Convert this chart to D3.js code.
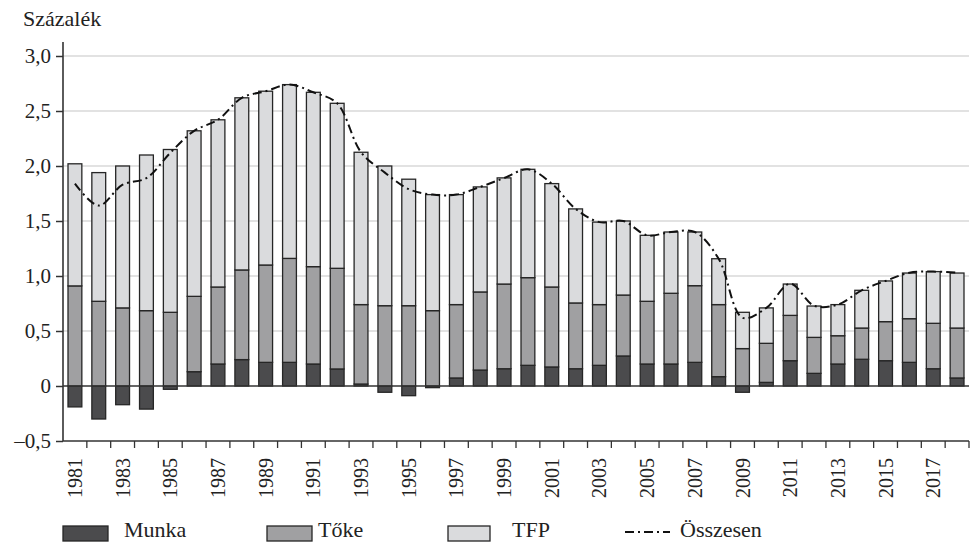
<!DOCTYPE html>
<html>
<head>
<meta charset="utf-8">
<script src="https://cdn.jsdelivr.net/npm/d3@7"></script>
<style>
  body { margin: 0; background: #fff; }
  text { font-family: "Liberation Serif", "DejaVu Serif", serif; fill: #222; }
</style>
</head>
<body>
<div id="chart-area"></div>
<script>
var years = [1981,1982,1983,1984,1985,1986,1987,1988,1989,1990,
             1991,1992,1993,1994,1995,1996,1997,1998,1999,2000,
             2001,2002,2003,2004,2005,2006,2007,2008,2009,2010,
             2011,2012,2013,2014,2015,2016,2017,2018];

var munka = [-0.19,-0.30,-0.17,-0.21,-0.03,0.13,0.20,0.24,0.215,0.215,
             0.20,0.155,0.018,-0.057,-0.088,-0.015,0.073,0.145,0.157,0.188,
             0.173,0.157,0.188,0.273,0.20,0.20,0.215,0.085,-0.057,0.033,
             0.23,0.115,0.20,0.243,0.23,0.215,0.157,0.073];

var toke = [0.91,0.77,0.71,0.685,0.67,0.685,0.70,0.815,0.885,0.945,
            0.885,0.915,0.722,0.73,0.73,0.685,0.667,0.71,0.77,0.797,
            0.727,0.598,0.552,0.554,0.57,0.643,0.697,0.655,0.34,0.355,
            0.412,0.327,0.257,0.284,0.355,0.397,0.413,0.454];

var tfp = [1.11,1.17,1.29,1.415,1.48,1.505,1.52,1.565,1.58,1.58,
           1.585,1.50,1.385,1.27,1.15,1.055,1.0,0.955,0.965,0.985,
           0.94,0.855,0.75,0.673,0.60,0.557,0.488,0.417,0.33,0.322,
           0.285,0.285,0.283,0.343,0.37,0.415,0.47,0.50];

var osszesen = [1.84,1.64,1.83,1.89,2.12,2.32,2.42,2.62,2.68,2.74,
                2.67,2.57,2.125,1.94,1.79,1.74,1.74,1.81,1.89,1.97,
                1.84,1.61,1.49,1.50,1.37,1.40,1.40,1.157,0.62,0.71,
                0.93,0.73,0.74,0.87,0.955,1.03,1.04,1.03];

var yTicks = [-0.5, 0, 0.5, 1.0, 1.5, 2.0, 2.5, 3.0];
var yearLabels = years.filter(function(d){ return d % 2 == 1; });

var keys = ["Munka", "Tőke", "TFP"];
var colors = ["#4b4b4d", "#a0a0a2", "#dadbdd"];

var data = years.map(function(d, i){
    return { year: d, "Munka": munka[i], "Tőke": toke[i], "TFP": tfp[i], total: osszesen[i] };
});

var width = 970, height = 542;
var plotLeft = 63, plotRight = 969, plotTop = 56, plotBottom = 441;

var svg = d3.select("#chart-area")
    .append("svg")
    .attr("width", width)
    .attr("height", height);

var x = d3.scaleBand()
    .domain(years)
    .range([plotLeft, plotRight])
    .paddingInner(0.42)
    .paddingOuter(0.21);

var y = d3.scaleLinear()
    .domain([-0.5, 3.0])
    .range([plotBottom, plotTop]);

// grid lines
svg.append("g")
    .selectAll("line")
    .data(yTicks.filter(function(d){ return d > 0; }))
    .enter()
    .append("line")
    .attr("x1", plotLeft)
    .attr("x2", plotRight)
    .attr("y1", function(d){ return y(d); })
    .attr("y2", function(d){ return y(d); })
    .attr("stroke", "#d9d9d9")
    .attr("stroke-width", 1.3);

// title
svg.append("text")
    .attr("x", 23)
    .attr("y", 26)
    .attr("font-size", "22px")
    .text("Százalék");

// stacked bars
var series = d3.stack()
    .keys(keys)
    .offset(d3.stackOffsetDiverging)(data);

svg.append("g")
    .selectAll("g")
    .data(series)
    .enter()
    .append("g")
    .attr("fill", function(d, i){ return colors[i]; })
    .selectAll("rect")
    .data(function(d){ return d; })
    .enter()
    .append("rect")
    .attr("x", function(d){ return x(d.data.year); })
    .attr("y", function(d){ return y(d[1]); })
    .attr("width", x.bandwidth())
    .attr("height", function(d){ return y(d[0]) - y(d[1]); })
    .attr("stroke", "#262626")
    .attr("stroke-width", 1.3);

// zero line
svg.append("line")
    .attr("x1", plotLeft)
    .attr("x2", plotRight)
    .attr("y1", y(0))
    .attr("y2", y(0))
    .attr("stroke", "#333")
    .attr("stroke-width", 1.6);

// total line
var line = d3.line()
    .x(function(d){ return x(d.year) + x.bandwidth() / 2; })
    .y(function(d){ return y(d.total); })
    .curve(d3.curveCatmullRom);

svg.append("path")
    .datum(data)
    .attr("d", line)
    .attr("fill", "none")
    .attr("stroke", "#111")
    .attr("stroke-width", 2)
    .attr("stroke-dasharray", "9,4,2,4");

// y axis
var yAxisCall = d3.axisLeft(y)
    .tickValues(yTicks)
    .tickSize(7)
    .tickPadding(5)
    .tickFormat(function(d){
        if (d == 0) return "0";
        return d3.format(".1f")(d).replace(".", ",").replace("-", "–").replace("−", "–");
    });

var yAxis = svg.append("g")
    .attr("transform", "translate(" + plotLeft + ",0)")
    .call(yAxisCall);
yAxis.select(".domain").remove();
yAxis.selectAll("line").attr("stroke", "#333").attr("stroke-width", 1.5);
yAxis.selectAll("text")
    .attr("font-size", "21px")
    .attr("font-family", "Liberation Serif, serif")
    .attr("fill", "#222");

svg.append("line")
    .attr("x1", plotLeft)
    .attr("x2", plotLeft)
    .attr("y1", 42)
    .attr("y2", plotBottom)
    .attr("stroke", "#333")
    .attr("stroke-width", 1.6);

// x axis line and boundary ticks
var gap = (x.step() - x.bandwidth()) / 2;
svg.append("line")
    .attr("x1", plotLeft)
    .attr("x2", plotRight)
    .attr("y1", plotBottom)
    .attr("y2", plotBottom)
    .attr("stroke", "#333")
    .attr("stroke-width", 1.6);

svg.append("g")
    .selectAll("line")
    .data(years)
    .enter()
    .append("line")
    .attr("x1", function(d){ return x(d) + x.bandwidth() + gap; })
    .attr("x2", function(d){ return x(d) + x.bandwidth() + gap; })
    .attr("y1", plotBottom)
    .attr("y2", plotBottom + 7)
    .attr("stroke", "#333")
    .attr("stroke-width", 1.3);

var xAxisCall = d3.axisBottom(x)
    .tickValues(yearLabels)
    .tickSize(0);

var xAxis = svg.append("g")
    .attr("transform", "translate(0," + plotBottom + ")")
    .call(xAxisCall);
xAxis.select(".domain").remove();
xAxis.selectAll("text")
    .attr("font-size", "20px")
    .attr("font-family", "Liberation Serif, serif")
    .attr("fill", "#222")
    .attr("text-anchor", "end")
    .attr("transform", "rotate(-90)")
    .attr("x", -17)
    .attr("y", 0)
    .attr("dy", "0.35em");

// legend
var legend = svg.append("g");
var legendX = [63, 267, 448];
var legendTextX = [124, 318, 512];

legend.selectAll("rect")
    .data(keys)
    .enter()
    .append("rect")
    .attr("x", function(d, i){ return legendX[i]; })
    .attr("y", 526)
    .attr("width", function(d, i){ return i == 2 ? 42 : 45; })
    .attr("height", 15)
    .attr("fill", function(d, i){ return colors[i]; })
    .attr("stroke", "#262626")
    .attr("stroke-width", 1.3);

legend.selectAll("text.key")
    .data(keys)
    .enter()
    .append("text")
    .attr("class", "key")
    .attr("x", function(d, i){ return legendTextX[i]; })
    .attr("y", 537)
    .attr("font-size", "22px")
    .text(function(d){ return d; });

legend.append("line")
    .attr("x1", 625)
    .attr("x2", 670)
    .attr("y1", 532)
    .attr("y2", 532)
    .attr("stroke", "#111")
    .attr("stroke-width", 2)
    .attr("stroke-dasharray", "9,4,2,4");

legend.append("text")
    .attr("x", 680)
    .attr("y", 537)
    .attr("font-size", "22px")
    .text("Összesen");
</script>
</body>
</html>
